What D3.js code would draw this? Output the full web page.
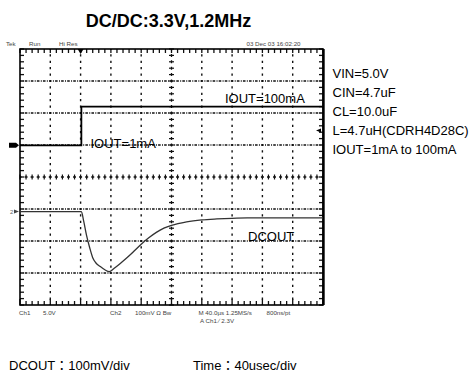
<!DOCTYPE html>
<html><head><meta charset="utf-8">
<script src="https://cdn.jsdelivr.net/npm/d3@7/dist/d3.min.js"></script>
<style>body{margin:0;background:#fff}svg{display:block;font-family:"Liberation Sans",Arial,"Noto Sans CJK JP",sans-serif}</style>
</head><body>
<svg id="c" width="473" height="383"></svg>
<script>
// ---- data ----
const title = "DC/DC:3.3V,1.2MHz";
const conditions = ["VIN=5.0V","CIN=4.7uF","CL=10.0uF","L=4.7uH(CDRH4D28C)","IOUT=1mA to 100mA"];
const ioutTime = [0, 81, 81, 400];          // µs
const ioutMa   = [1, 1, 100, 100];          // mA
const dcTime = [0, 81, 84, 88, 92, 96, 100, 106, 112, 118, 124, 132, 140, 150, 160, 170, 180, 190, 200, 220, 240, 260, 280, 300, 400];
const dcMv   = [0, 0, -29, -76, -113, -144, -160, -172, -182, -188, -178, -163, -147, -125, -102, -82, -65, -52, -43, -32, -26, -23, -21, -20, -20];
const statusTop = ["Tek", "Run", "Hi Res", "03 Dec 03 16:02:20"];
const statusBottom = ["Ch1", "5.0V", "Ch2", "100mV  \u03A9  Bw", "M 40.0\u00B5s 1.25MS/s", "800ns/pt", "A  Ch1  \u2215  2.3V"];
const footer = ["DCOUT\uFF1A100mV/div", "Time\uFF1A40usec/div"];

// ---- scales ----
const svg = d3.select("#c");
const L = 20, R = 323, T = 49, B = 305;
const x = d3.scaleLinear().domain([0, 400]).range([L, R]);           // time µs, 40 µs/div
const xDiv = d3.scaleLinear().domain([0, 10]).range([L, R]);
const yDiv = d3.scaleLinear().domain([-4, 4]).range([B, T]);
const ch2Pos = -1.08;
const y2 = mv => yDiv(mv / 100 + ch2Pos);                               // 100 mV/div
const y1 = d3.scaleLinear().domain([1, 100]).range([yDiv(0.99), yDiv(2.2)]);

// ---- title ----
svg.append("text").attr("x", 168.5).attr("y", 27).attr("text-anchor", "middle")
  .attr("font-size", 18).attr("font-weight", "bold").text(title);

// ---- graticule ----
const g = svg.append("g");
const gridCol = "#111";
// vertical gridlines (dotted)
d3.range(1, 10).filter(i => i !== 5).forEach(i => {
  g.append("line").attr("x1", xDiv(i)).attr("x2", xDiv(i)).attr("y1", T).attr("y2", B)
    .attr("stroke", gridCol).attr("stroke-width", 1.4).attr("stroke-dasharray", "2.2,4.2").attr("stroke-dashoffset", 1.1);
});
// horizontal gridlines (dash-dot)
d3.range(-3, 4).filter(i => i !== 0).forEach(i => {
  g.append("line").attr("x1", L).attr("x2", R).attr("y1", yDiv(i)).attr("y2", yDiv(i))
    .attr("stroke", gridCol).attr("stroke-width", 1.3).attr("stroke-dasharray", "2.6,1.3,1,1.16").attr("stroke-dashoffset", 1.3);
});
// center cross with minor ticks
g.append("line").attr("x1", L).attr("x2", R).attr("y1", yDiv(0)).attr("y2", yDiv(0))
  .attr("stroke", gridCol).attr("stroke-width", 1.3).attr("stroke-dasharray", "3,3.06").attr("stroke-dashoffset", 1.5);
g.append("line").attr("x1", xDiv(5)).attr("x2", xDiv(5)).attr("y1", T).attr("y2", B)
  .attr("stroke", gridCol).attr("stroke-width", 1.3).attr("stroke-dasharray", "3,3.4").attr("stroke-dashoffset", 1.5);
d3.range(0, 50.01, 1).forEach(k => {
  const xx = xDiv(k / 5);
  g.append("line").attr("x1", xx).attr("x2", xx).attr("y1", yDiv(0) - 2.5).attr("y2", yDiv(0) + 2.5).attr("stroke", gridCol).attr("stroke-width", 1.2);
  const big = k % 5 === 0;
  g.append("line").attr("x1", xx).attr("x2", xx).attr("y1", T).attr("y2", T + 4).attr("stroke", gridCol).attr("stroke-width", 1.3);
  g.append("line").attr("x1", xx).attr("x2", xx).attr("y1", B).attr("y2", B - (big ? 6 : 4)).attr("stroke", gridCol).attr("stroke-width", 1.3);
});
d3.range(0, 40.01, 1).forEach(k => {
  const yy = yDiv(-4 + k / 5);
  g.append("line").attr("y1", yy).attr("y2", yy).attr("x1", xDiv(5) - 2.5).attr("x2", xDiv(5) + 2.5).attr("stroke", gridCol).attr("stroke-width", 1.2);
  g.append("line").attr("y1", yy).attr("y2", yy).attr("x1", L).attr("x2", L + 4).attr("stroke", gridCol).attr("stroke-width", 1.3);
  g.append("line").attr("y1", yy).attr("y2", yy).attr("x1", R).attr("x2", R - 4).attr("stroke", gridCol).attr("stroke-width", 1.3);
});
// border
g.append("rect").attr("x", L).attr("y", T).attr("width", R - L).attr("height", B - T)
  .attr("fill", "none").attr("stroke", "#000").attr("stroke-width", 1.6);
g.append("line").attr("x1", R + 0.5).attr("x2", R + 0.5).attr("y1", T).attr("y2", B).attr("stroke", "#000").attr("stroke-width", 2.4);

// ---- traces ----
const line1 = d3.line().x((d, i) => x(ioutTime[i])).y((d, i) => y1(ioutMa[i]));
svg.append("path").attr("d", line1(ioutMa)).attr("fill", "none").attr("stroke", "#000").attr("stroke-width", 1.8);
const line2 = d3.line().x((d, i) => x(dcTime[i])).y((d, i) => y2(dcMv[i])).curve(d3.curveMonotoneX);
svg.append("path").attr("d", line2(dcMv)).attr("fill", "none").attr("stroke", "#333").attr("stroke-width", 1.3);

// markers
svg.append("path").attr("d", `M9,${y1(1) - 2.5}H16L19,${y1(1)}L16,${y1(1) + 2.5}H9Z`).attr("fill", "#000");
svg.append("text").attr("x", 10).attr("y", y2(0) + 2).attr("font-size", 6).attr("fill", "#666").text("2");
svg.append("path").attr("d", `M14,${y2(0) - 2}L19,${y2(0)}L14,${y2(0) + 2}Z`).attr("fill", "#444");
svg.append("path").attr("d", `M${x(80) - 3},${T}L${x(80) + 3},${T}L${x(80)},${T + 5}Z`).attr("fill", "#000");
const trigY = yDiv(0.99 + 2.3 / 5);
svg.append("path").attr("d", `M${R - 2},${trigY - 2}L${R - 7},${trigY}L${R - 2},${trigY + 2}Z`).attr("fill", "#000");

// ---- in-plot labels ----
svg.append("text").attr("x", 225).attr("y", 103).attr("font-size", 13).text("IOUT=100mA");
svg.append("text").attr("x", 90.5).attr("y", 147.5).attr("font-size", 13).text("IOUT=1mA");
svg.append("text").attr("x", 248).attr("y", 241).attr("font-size", 13).text("DCOUT");

// ---- condition list ----
svg.selectAll("text.cond").data(conditions).enter().append("text").attr("class", "cond")
  .attr("x", 332.5).attr("y", (d, i) => 78 + i * 19).attr("font-size", 13).text(d => d);

// ---- scope status text ----
const small = (t, xx, yy) => svg.append("text").attr("x", xx).attr("y", yy).attr("font-size", 6.2).attr("fill", "#444").text(t);
small(statusTop[0], 6, 46); small(statusTop[1], 29, 46); small(statusTop[2], 59, 46); small(statusTop[3], 246.5, 46);
small(statusBottom[0], 19, 315); small(statusBottom[1], 43, 315); small(statusBottom[2], 110, 315);
small(statusBottom[3], 135, 315); small(statusBottom[4], 198.5, 315); small(statusBottom[5], 266.5, 315);
small(statusBottom[6], 200, 323);

// ---- footer ----
svg.append("text").attr("x", 9).attr("y", 370).attr("font-size", 13).text(footer[0]);
svg.append("text").attr("x", 193).attr("y", 370).attr("font-size", 13).text(footer[1]);
</script>
</body></html>
